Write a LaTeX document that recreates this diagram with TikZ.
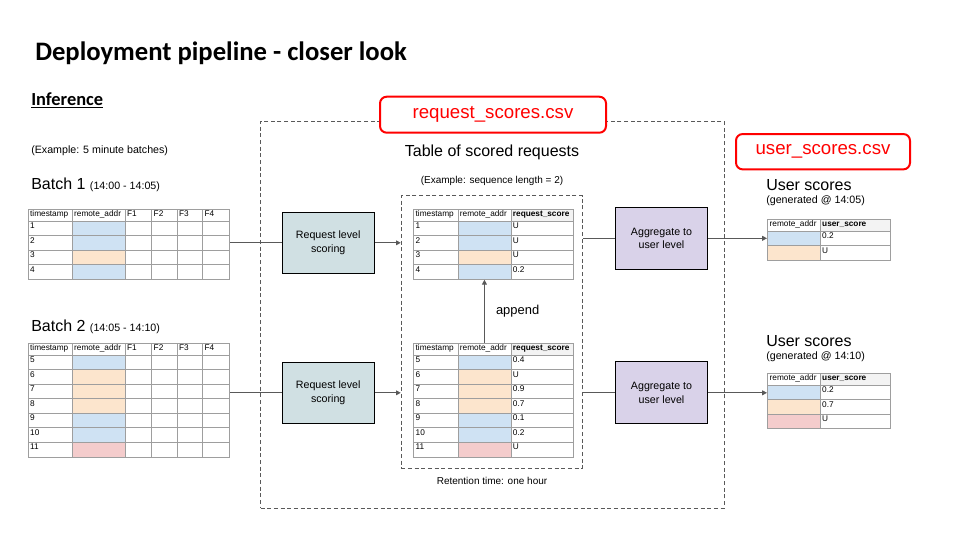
\documentclass[tikz,border=0pt]{standalone}
\usepackage{fontspec}
\setmainfont{Liberation Sans}
\newfontfamily\titlefont{Carlito}
\usetikzlibrary{matrix,fit,arrows.meta,positioning}

\definecolor{cellblue}{HTML}{CFE2F3}
\definecolor{cellorange}{HTML}{FCE5CD}
\definecolor{cellpink}{HTML}{F4CCCC}
\definecolor{hdrgray}{HTML}{F3F3F3}
\definecolor{gridgray}{HTML}{9E9E9E}
\definecolor{linegray}{HTML}{595959}
\definecolor{scorefill}{HTML}{D0E0E3}
\definecolor{aggfill}{HTML}{D9D2E9}
\definecolor{csvred}{HTML}{FF0000}

\newcommand{\tblfont}{\fontsize{6.2}{7}\selectfont}

\begin{document}
\begin{tikzpicture}[x=0.75pt, y=-0.75pt,
  tbl/.style={matrix of nodes, anchor=north west, inner sep=0pt,
              column sep=-0.6pt, row sep=-0.6pt, nodes in empty cells,
              nodes={draw=gridgray, line width=0.6pt, font=\tblfont, inner xsep=1.5pt,
                     inner ysep=1pt, text height=4.6pt, text depth=4.3pt},
              row 1/.style={nodes={text depth=2.4pt}}},
  batchcols/.style={column 1/.style={nodes={text width=30pt}},
                    column 2/.style={nodes={text width=36.75pt}},
                    column 3/.style={nodes={text width=16.9pt}},
                    column 4/.style={nodes={text width=16.1pt}},
                    column 5/.style={nodes={text width=16.1pt}},
                    column 6/.style={nodes={text width=17.25pt}}},
  reqcols/.style={column 1/.style={nodes={text width=30.2pt}},
                  column 2/.style={nodes={text width=36.75pt}},
                  column 3/.style={nodes={text width=43.9pt}}},
  usercols/.style={column 1/.style={nodes={text width=36.4pt}},
                   column 2/.style={nodes={text width=49.9pt}}},
  hdr/.style={fill=hdrgray, font=\tblfont\bfseries},
  scorebox/.style={draw, line width=0.75pt, fill=scorefill, align=center,
                   font=\fontsize{8}{10}\selectfont, minimum width=68.8pt, minimum height=45.75pt},
  aggbox/.style={draw, line width=0.75pt, fill=aggfill, align=center,
                 font=\fontsize{8}{10}\selectfont, minimum width=69.3pt, minimum height=46.5pt},
  csvbox/.style={draw=csvred, line width=1.5pt, rounded corners=5pt, fill=white,
                 text=csvred, font=\fontsize{14}{16}\selectfont},
  dashbox/.style={draw=linegray, line width=0.75pt, dash pattern=on 3pt off 2pt,
                  inner sep=0pt},
  txt/.style={inner sep=0pt},
  link/.style={draw=linegray, line width=0.75pt},
  arrow/.style={link, -{Triangle[width=3.6pt,length=3.6pt]}}
]
\useasboundingbox[fill=white] (0,0) rectangle (960,540);

% Headings
\node[txt, anchor=base west] (title) at (35,60)
  {\titlefont\bfseries\fontsize{20}{24}\selectfont Deployment pipeline - closer look};
\node[txt, anchor=base west] (inference) at (31,105)
  {\titlefont\bfseries\fontsize{13.8}{16}\selectfont \underline{Inference}};
\node[txt, anchor=base west, font=\fontsize{8}{10}\selectfont] (batchnote) at (31,153)
  {(Example: 5 minute batches)};

% Batches
\node[txt, anchor=base west] (batch1lbl) at (31,189.5)
  {\fontsize{12}{14}\selectfont Batch 1 {\fontsize{8}{10}\selectfont (14:00 - 14:05)}};
\matrix[tbl, batchcols] (batch1) at (27.5,208.5) {
  timestamp & remote\_addr & F1 & F2 & F3 & F4 \\
  1 & |[fill=cellblue]|   & & & & \\
  2 & |[fill=cellblue]|   & & & & \\
  3 & |[fill=cellorange]| & & & & \\
  4 & |[fill=cellblue]|   & & & & \\
};

\node[txt, anchor=base west] (batch2lbl) at (31,331.5)
  {\fontsize{12}{14}\selectfont Batch 2 {\fontsize{8}{10}\selectfont (14:05 - 14:10)}};
\matrix[tbl, batchcols] (batch2) at (27.5,342.5) {
  timestamp & remote\_addr & F1 & F2 & F3 & F4 \\
  5  & |[fill=cellblue]|   & & & & \\
  6  & |[fill=cellorange]| & & & & \\
  7  & |[fill=cellorange]| & & & & \\
  8  & |[fill=cellorange]| & & & & \\
  9  & |[fill=cellblue]|   & & & & \\
  10 & |[fill=cellblue]|   & & & & \\
  11 & |[fill=cellpink]|   & & & & \\
};

% Scoring
\node[scorebox] (score1) at (328.2,242.8) {Request level\\scoring};
\node[scorebox] (score2) at (328.2,392.8) {Request level\\scoring};

% Stored request scores
\node[dashbox, fit={(260.5,121) (724,508.3)}] (pipeline) {};
\node[dashbox, fit={(401.3,195.7) (582.7,468)}] (retain) {};
\node[csvbox, minimum width=169.5pt, minimum height=27pt] (reqcsv) at (493,114.7)
  {request\_scores.csv};
\node[font=\fontsize{12}{14}\selectfont] (reqtitle) at (492,152) {Table of scored requests};
\node[font=\fontsize{7.5}{9}\selectfont] (seqnote) at (492,181) {(Example: sequence length = 2)};
\node[font=\fontsize{7.5}{9}\selectfont] (retnote) at (492,481) {Retention time: one hour};

\matrix[tbl, reqcols] (req1) at (413,208.5) {
  timestamp & remote\_addr & |[hdr]| request\_score \\
  1 & |[fill=cellblue]|   & U \\
  2 & |[fill=cellblue]|   & U \\
  3 & |[fill=cellorange]| & U \\
  4 & |[fill=cellblue]|   & 0.2 \\
};
\matrix[tbl, reqcols] (req2) at (413,342.5) {
  timestamp & remote\_addr & |[hdr]| request\_score \\
  5  & |[fill=cellblue]|   & 0.4 \\
  6  & |[fill=cellorange]| & U \\
  7  & |[fill=cellorange]| & 0.9 \\
  8  & |[fill=cellorange]| & 0.7 \\
  9  & |[fill=cellblue]|   & 0.1 \\
  10 & |[fill=cellblue]|   & 0.2 \\
  11 & |[fill=cellpink]|   & U \\
};

% Aggregation
\node[aggbox] (agg1) at (661.5,238.3) {Aggregate to\\user level};
\node[aggbox] (agg2) at (661.5,392.8) {Aggregate to\\user level};

% User scores
\node[csvbox, minimum width=130.5pt, minimum height=26.5pt] (usercsv) at (823,151.7)
  {user\_scores.csv};
\node[txt, anchor=base west] (user1lbl) at (766,190)
  {\fontsize{12}{14}\selectfont User scores};
\node[txt, anchor=base west, font=\fontsize{8}{10}\selectfont] (user1note) at (766,203.5)
  {(generated @ 14:05)};
\matrix[tbl, usercols] (user1) at (767,218.5) {
  remote\_addr & |[hdr]| user\_score \\
  |[fill=cellblue]|   & 0.2 \\
  |[fill=cellorange]| & U \\
};
\node[txt, anchor=base west] (user2lbl) at (766,346)
  {\fontsize{12}{14}\selectfont User scores};
\node[txt, anchor=base west, font=\fontsize{8}{10}\selectfont] (user2note) at (766,359.5)
  {(generated @ 14:10)};
\matrix[tbl, usercols] (user2) at (767,372.5) {
  remote\_addr & |[hdr]| user\_score \\
  |[fill=cellblue]|   & 0.2 \\
  |[fill=cellorange]| & 0.7 \\
  |[fill=cellpink]|   & U \\
};

% Connectors
\draw[link]  (batch1.east |- score1.west) -- (score1.west);
\draw[arrow] (score1.east) -- (score1.east -| retain.west);
\draw[link]  (batch2.east |- score2.west) -- (score2.west);
\draw[arrow] (score2.east) -- (score2.east -| retain.west);
\draw[arrow] (req2-1-2.north) -- (req1-5-2.south)
  node[midway, right=5pt, font=\fontsize{9.7}{12}\selectfont] (appendlbl) {append};
\draw[link]  (retain.east |- agg1.west) -- (agg1.west);
\draw[arrow] (agg1.east) -- (agg1.east -| user1.west);
\draw[link]  (retain.east |- agg2.west) -- (agg2.west);
\draw[arrow] (agg2.east) -- (agg2.east -| user2.west);

\end{tikzpicture}
\end{document}
